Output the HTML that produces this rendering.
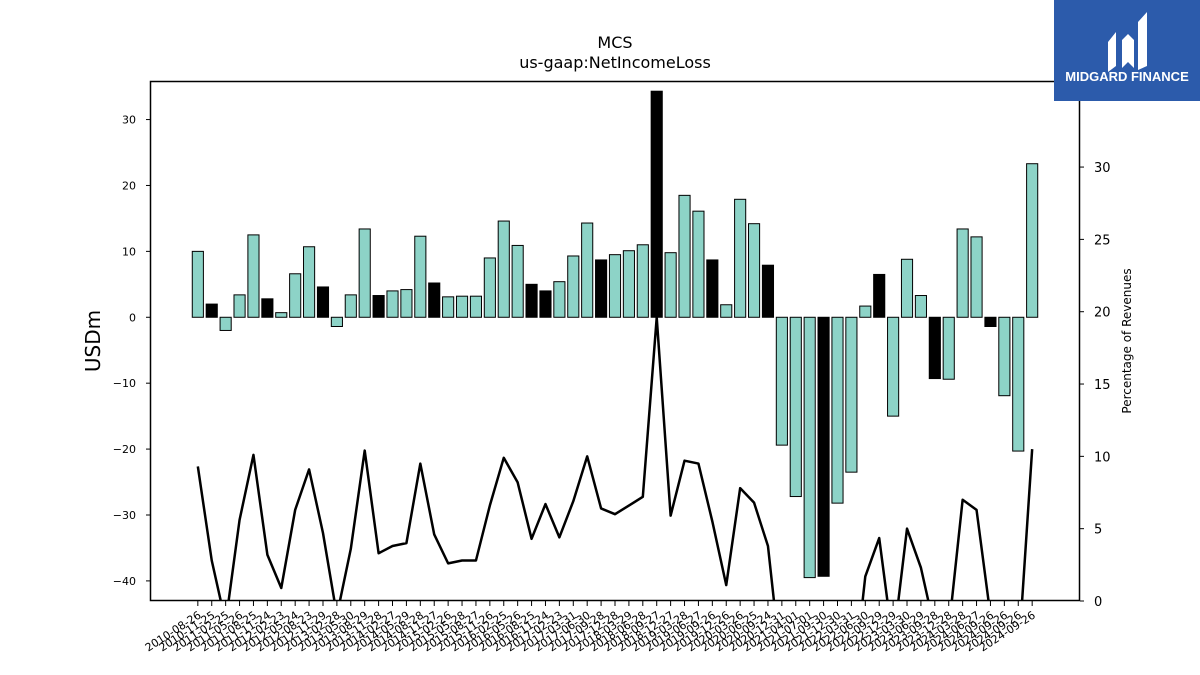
<!DOCTYPE html>
<html><head><meta charset="utf-8"><style>
body{margin:0;background:#fff;width:1200px;height:675px;overflow:hidden;font-family:"Liberation Sans","DejaVu Sans",sans-serif}
svg text{font-family:"DejaVu Sans","Liberation Sans",sans-serif}
</style></head><body>
<svg id="chart" width="1200" height="675" xmlns="http://www.w3.org/2000/svg" style="display:block">
<text x="615" y="48" font-size="16" text-anchor="middle">MCS</text>
<text x="615" y="68" font-size="16" text-anchor="middle">us-gaap:NetIncomeLoss</text>
<text x="0" y="0" font-size="20" text-anchor="middle" transform="translate(100,341) rotate(-90)">USDm</text>
<text x="0" y="0" font-size="12" text-anchor="middle" transform="translate(1131,341) rotate(-90)">Percentage of Revenues</text>
<g id="bars"></g><g id="line"></g><g id="axes"></g>
<rect x="150.5" y="81.5" width="929" height="519" fill="none" stroke="#000" stroke-width="1.5"/>
<g>
<rect x="1054" y="0" width="146" height="101" fill="#2c5bab"/>
<path d="M1108 42 L1116 32 L1116 66 L1108 72 Z M1122 40 L1128 34 L1134 40 L1134 68 L1128 62 L1122 68 Z M1138 22 L1147 12 L1147 66 L1138 70 Z" fill="#fff"/>
<text x="1127" y="81" font-size="13" font-weight="bold" fill="#fff" text-anchor="middle" style="font-family:'Liberation Sans',sans-serif">MIDGARD FINANCE</text>
</g>
</svg>
<script>
const dates=["2010-08-26","2010-11-25","2011-02-25","2011-05-26","2011-08-25","2011-11-24","2012-02-23","2012-05-24","2012-08-23","2012-11-29","2013-02-28","2013-05-30","2013-08-29","2013-11-28","2014-02-27","2014-05-29","2014-08-28","2014-11-27","2015-02-26","2015-05-28","2015-08-27","2015-11-26","2016-02-25","2016-05-26","2016-08-25","2016-11-24","2017-02-23","2017-03-31","2017-06-30","2017-09-28","2017-12-28","2018-03-29","2018-06-28","2018-09-27","2018-12-27","2019-03-28","2019-06-27","2019-09-26","2019-12-26","2020-03-26","2020-06-25","2020-09-24","2020-12-31","2021-04-01","2021-07-01","2021-09-30","2021-12-30","2022-03-31","2022-06-30","2022-09-29","2022-12-29","2023-03-30","2023-06-29","2023-09-28","2023-12-28","2024-03-28","2024-06-27","2024-09-26","2024-09-26","2024-09-26","2024-09-26"];
const income=[10,2,-2,3.4,12.5,2.8,0.7,6.6,10.7,4.6,-1.4,3.4,13.4,3.3,4,4.2,12.3,5.2,3.1,3.2,3.2,9,14.6,10.9,5,4,5.4,9.3,14.3,8.7,9.5,10.1,11,34.3,9.8,18.5,16.1,8.7,1.9,17.9,14.2,7.9,-19.4,-27.2,-39.5,-39.3,-28.2,-23.5,1.7,6.5,-15,8.8,3.3,-9.3,-9.4,13.4,12.2,-1.4,-11.9,-20.3,23.3];
const annual=[0,1,0,0,0,1,0,0,0,1,0,0,0,1,0,0,0,1,0,0,0,0,0,0,1,1,0,0,0,1,0,0,0,1,0,0,0,1,0,0,0,1,0,0,0,1,0,0,0,1,0,0,0,1,0,0,0,1,0,0,0];
const pct=[9.3,2.8,-1.5,5.6,10.1,3.2,0.9,6.3,9.1,4.7,-1,3.6,10.4,3.3,3.8,4.0,9.5,4.6,2.6,2.8,2.8,6.6,9.9,8.2,4.3,6.7,4.4,6.9,10,6.4,6.0,6.6,7.2,19.6,5.9,9.7,9.5,5.5,1.1,7.8,6.8,3.8,-5,-8,-12,-12,-9,-7,1.7,4.35,-3,5.0,2.3,-2,-2,7.0,6.3,-1,-3,-4,10.5];
const yTicks=[-40,-30,-20,-10,0,10,20,30];
const y2Ticks=[0,5,10,15,20,25,30];
const NS="http://www.w3.org/2000/svg";
const L=150,R=1080,T=81,B=601;
const n=income.length;
const xmin=-3.44, xmax=(n-1)+3.44;
const xs=i=>L+(i-xmin)/(xmax-xmin)*(R-L);
const ymin=-43.05,ymax=35.85;
const ys=v=>B-(v-ymin)/(ymax-ymin)*(B-T);
const y2max=35.95;
const y2s=v=>B-v/y2max*(B-T);
const bw=0.8*(R-L)/(xmax-xmin);
function mk(t,a,p){const e=document.createElementNS(NS,t);for(const k in a)e.setAttribute(k,a[k]);p.appendChild(e);return e;}
const gb=document.getElementById('bars');
income.forEach((v,i)=>{
 const y0=ys(0),y1=ys(v);
 const r=mk('rect',{x:xs(i)-bw/2,y:Math.min(y0,y1),width:bw,height:Math.abs(y1-y0),fill:annual[i]?'#000':'#8dd3c7',stroke:'#000','stroke-width':1},gb);
 
 
});
const gl=document.getElementById('line');
const cp=mk('clipPath',{id:'clip'},gl);mk('rect',{x:L,y:T,width:R-L,height:B-T},cp);
const pl=mk('polyline',{points:pct.map((v,i)=>xs(i)+','+y2s(v)).join(' '),fill:'none',stroke:'#000','stroke-width':2.5,'clip-path':'url(#clip)','stroke-linejoin':'round'},gl);


const ga=document.getElementById('axes');
yTicks.forEach(v=>{const y=ys(v);
 mk('line',{x1:L-4,x2:L,y1:y,y2:y,stroke:'#000'},ga);
 const t=mk('text',{x:L-14,y:y+4,'font-size':11,'text-anchor':'end'},ga);t.textContent=v<0?'\u2212'+(-v):v;
 
 
});
y2Ticks.forEach(v=>{const y=y2s(v);
 mk('line',{x1:R,x2:R+4,y1:y,y2:y,stroke:'#000'},ga);
 const t=mk('text',{x:R+14,y:y+5,'font-size':13},ga);t.textContent=v;
 
 
});
dates.forEach((d,i)=>{const x=xs(i);
 mk('line',{x1:x,x2:x,y1:B,y2:B+5,stroke:'#000'},ga);
 const t=mk('text',{x:0,y:0,'font-size':11,'text-anchor':'end',transform:'translate('+(x+4)+','+(B+16)+') rotate(-33)'},ga);t.textContent=d;
 
 
});
</script>
</body></html>
